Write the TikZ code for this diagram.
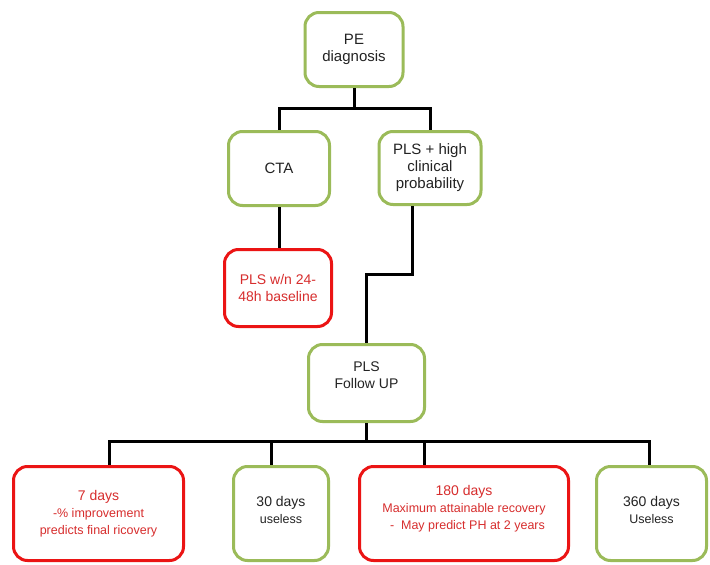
\documentclass[tikz,border=0pt]{standalone}
\usepackage{fontspec}
\setmainfont{Liberation Sans}
\definecolor{boxgreen}{RGB}{155,187,89}
\definecolor{boxred}{RGB}{235,20,20}
\definecolor{textred}{RGB}{215,45,45}
\definecolor{textdark}{RGB}{35,35,35}
\begin{document}
\begin{tikzpicture}[x=1pt,y=-1pt,
  box/.style={draw=boxgreen, line width=3pt, rounded corners=14pt, fill=white, text=textdark,
    align=center, inner sep=0pt, font=\fontsize{15}{17}\selectfont},
  redbox/.style={box, draw=boxred, text=textred},
  small/.style={font=\fontsize{14}{17}\selectfont},
  conn/.style={line width=3pt, black}]
\useasboundingbox (0,0) rectangle (710,565);

\node[box, minimum width=98pt, minimum height=74pt] (pe) at (354,49.5) {PE\\diagnosis};
\node[box, minimum width=101pt, minimum height=74pt] (cta) at (279,168.5) {CTA};
\node[box, minimum width=102pt, minimum height=73pt] (plsh) at (430,168) {PLS + high\\clinical\\probability};
\node[redbox, small, minimum width=107pt, minimum height=77pt] (plsw) at (278,288) {PLS w/n 24-\\48h baseline};
\node[box, small, minimum width=116pt, minimum height=77pt] (fu) at (366.5,383) {PLS\\Follow UP\\[-1pt]};

\node[redbox, small, minimum width=170pt, minimum height=94pt] (d7) at (98.5,513.5)
  {7 days\\\fontsize{12.5}{17}\selectfont -\% improvement\\\fontsize{12.5}{17}\selectfont predicts final ricovery};
\node[box, small, minimum width=95pt, minimum height=94pt] (d30) at (281,513.5)
  {30 days\\\fontsize{12.5}{17}\selectfont useless\\[-10pt]};
\node[redbox, small, minimum width=209pt, minimum height=94pt] (d180) at (464,513.5)
  {180 days\\\fontsize{12.5}{17}\selectfont Maximum attainable recovery\\\fontsize{12.5}{17}\selectfont\ \ -\ \ May predict PH at 2 years\\[-4pt]};
\node[box, small, minimum width=110pt, minimum height=94pt] (d360) at (651.5,513.5)
  {360 days\\\fontsize{12.5}{17}\selectfont Useless\\[-10pt]};

% connectors
\coordinate (j1) at (354,108);
\draw[conn] (pe.south) -- (j1);
\draw[conn] (cta.north) |- (j1) -| (plsh.north);
\draw[conn] (cta.south) -- (cta.south |- plsw.north);

\coordinate (k1) at (412,274);
\draw[conn] (k1 |- plsh.south) -- (k1) -| (fu.north);

\coordinate (j2) at (366.5,441);
\coordinate (t7) at (109,441);
\coordinate (t30) at (271,441);
\coordinate (t180) at (424,441);
\coordinate (t360) at (649,441);
\draw[conn] (fu.south) -- (j2);
\draw[conn] (t7 |- d7.north) -- (t7) -- (t360) -- (t360 |- d360.north);
\draw[conn] (t30) -- (t30 |- d30.north);
\draw[conn] (t180) -- (t180 |- d180.north);
\end{tikzpicture}
\end{document}
